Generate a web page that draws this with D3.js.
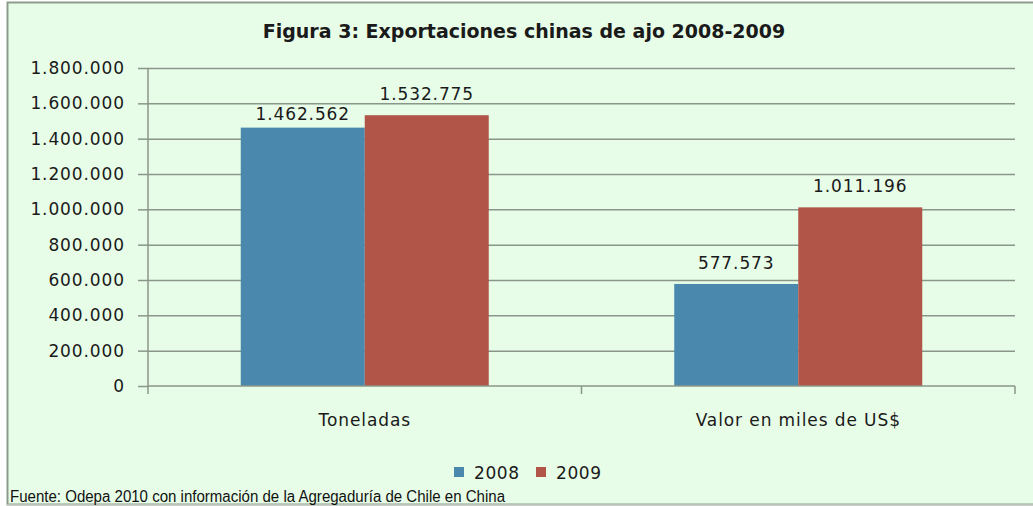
<!DOCTYPE html>
<html>
<head>
<meta charset="utf-8">
<script src="https://cdn.jsdelivr.net/npm/d3@7"></script>
<style>
  body { margin: 0; background: #ffffff; }
  svg { display: block; }
</style>
</head>
<body>
<svg id="chart" width="1033" height="506"></svg>
<script>
// Chart data
const categories = ["Toneladas", "Valor en miles de US$"];
const seriesNames = ["2008", "2009"];
const values2008 = [1462562, 577573];
const values2009 = [1532775, 1011196];
const yTicks = [0, 200000, 400000, 600000, 800000, 1000000, 1200000, 1400000, 1600000, 1800000];
const colors = ["#4a88ad", "#b05547"];

const fmt = d3.formatLocale({ decimal: ",", thousands: ".", grouping: [3], currency: ["", ""] }).format(",d");
const FONT = "'DejaVu Sans', Verdana, sans-serif";

const svg = d3.select("#chart");

// background frame
svg.append("rect")
   .attr("x", 7.5).attr("y", 2.5)
   .attr("width", 1040).attr("height", 502)
   .attr("fill", "#e8fde8")
   .attr("stroke", "#8c9c8c")
   .attr("stroke-width", 2);

svg.append("line")
   .attr("x1", 7).attr("x2", 1033)
   .attr("y1", 505).attr("y2", 505)
   .attr("stroke", "#c8d0c8").attr("stroke-width", 1.5);

// title
svg.append("text")
   .attr("x", 524).attr("y", 38)
   .attr("text-anchor", "middle")
   .style("font-family", FONT)
   .style("font-size", "19px")
   .style("font-weight", "bold")
   .attr("fill", "#1a1a1a")
   .text("Figura 3: Exportaciones  chinas de ajo 2008-2009");

//Set the dimensions of the plot area
const margin = { top: 68, left: 148 },
      width = 1015 - 148,
      height = 386 - 68;

const g = svg.append("g").attr("transform", "translate(" + margin.left + "," + margin.top + ")");

const x0 = d3.scaleBand().domain(categories).range([0, width]).paddingInner(0).paddingOuter(0);
const x1 = d3.scaleBand().domain(seriesNames).range([0, 248]);
const y = d3.scaleLinear().domain([0, 1800000]).range([height, 0]);

// gridlines
g.selectAll(".grid")
 .data(yTicks.slice(1))
 .enter().append("line")
 .attr("x1", 0).attr("x2", width)
 .attr("y1", d => y(d) + 0.5).attr("y2", d => y(d) + 0.5)
 .attr("stroke", "#8a968a").attr("stroke-width", 1.5);

// bars
const groups = g.selectAll(".cat")
  .data(categories)
  .enter().append("g")
  .attr("transform", d => "translate(" + (x0(d) + (x0.bandwidth() - 248) / 2) + ",0)");

groups.each(function(cat, i) {
  const rows = [values2008[i], values2009[i]];
  const sel = d3.select(this);
  sel.selectAll("rect")
     .data(rows)
     .enter().append("rect")
     .attr("x", (d, j) => x1(seriesNames[j]))
     .attr("y", d => y(d))
     .attr("width", x1.bandwidth())
     .attr("height", d => height - y(d))
     .attr("fill", (d, j) => colors[j]);
  sel.selectAll(".lbl")
     .data(rows)
     .enter().append("text")
     .attr("x", (d, j) => x1(seriesNames[j]) + x1.bandwidth() / 2)
     // first label sits lower in the original to stay clear of its neighbour
     .attr("y", (d, j) => y(d) - (i === 0 && j === 0 ? 8 : 15))
     .attr("text-anchor", "middle")
     .style("font-family", FONT)
     .style("font-size", "17px")
     .style("letter-spacing", "0.9px")
     .attr("fill", "#1a1a1a")
     .text(d => fmt(d));
});

//Add the Y Axis
const yAxis = g.append("g")
  .call(d3.axisLeft(y).tickValues(yTicks).tickFormat(fmt).tickSize(10).tickPadding(13));
yAxis.select(".domain").attr("stroke", "#8a968a").attr("stroke-width", 1.5).attr("d", "M0,0V" + height);
yAxis.selectAll(".tick line").attr("stroke", "#8a968a").attr("stroke-width", 1.5);
yAxis.selectAll(".tick text")
     .style("font-family", FONT)
     .style("font-size", "17px")
     .style("letter-spacing", "0.9px")
     .attr("fill", "#1a1a1a");

//Add the X Axis
const xAxis = g.append("g")
  .attr("transform", "translate(0," + height + ")")
  .call(d3.axisBottom(x0).tickSize(0).tickPadding(28));
xAxis.select(".domain").attr("stroke", "#8a968a").attr("stroke-width", 1.5).attr("d", "M0,0H" + width);
xAxis.selectAll(".tick text")
     .style("font-family", FONT)
     .style("font-size", "17px")
     .style("letter-spacing", "0.9px")
     .attr("fill", "#1a1a1a");
xAxis.selectAll(".sep")
     .data([0, width / 2, width])
     .enter().append("line")
     .attr("x1", d => d).attr("x2", d => d)
     .attr("y1", 0).attr("y2", 8)
     .attr("stroke", "#8a968a").attr("stroke-width", 1.5);

// legend
const legend = svg.append("g").attr("transform", "translate(454,467)");
const items = legend.selectAll("g")
  .data(seriesNames)
  .enter().append("g")
  .attr("transform", (d, i) => "translate(" + (i * 82) + ",0)");
items.append("rect").attr("width", 10).attr("height", 10).attr("fill", (d, i) => colors[i]);
items.append("text")
     .attr("x", 20).attr("y", 12)
     .style("font-family", FONT)
     .style("font-size", "17px")
     .style("letter-spacing", "0.6px")
     .attr("fill", "#1a1a1a")
     .text(d => d);

// source note
svg.append("text")
   .attr("x", 10).attr("y", 502)
   .style("font-family", "'Liberation Sans Narrow', 'Liberation Sans', Arial, sans-serif")
   .style("font-size", "16px")
   .attr("textLength", 495)
   .attr("lengthAdjust", "spacingAndGlyphs")
   .attr("fill", "#111")
   .text("Fuente: Odepa 2010 con información de la Agregaduría de Chile en China");
</script>
</body>
</html>
